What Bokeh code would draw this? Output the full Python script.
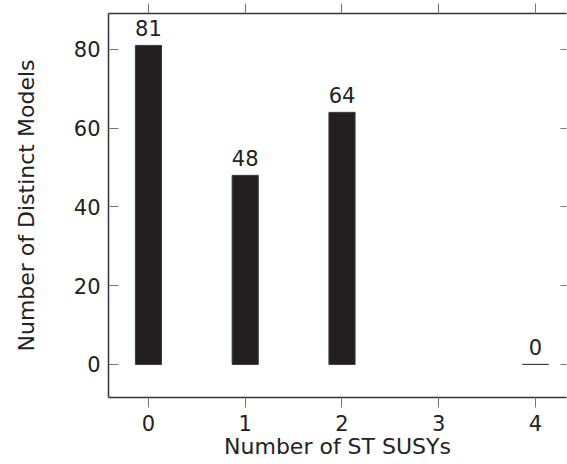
from bokeh.plotting import figure
from bokeh.models import ColumnDataSource, LinearAxis, FixedTicker, Range1d, LabelSet
from bokeh.core.properties import value
from bokeh.embed import file_html
from bokeh.resources import INLINE

categories = [0, 1, 2, 3, 4]
bar_x = [0, 1, 2, 4]
bar_values = [81, 48, 64, 0]
bar_labels = ["81", "48", "64", "0"]
y_ticks = [0, 20, 40, 60, 80]

FONT = "DejaVu Sans"
FS = "21px"
LFS = "22px"
TXT = "#222222"

src = ColumnDataSource(dict(x=bar_x, top=bar_values, label=bar_labels))

p = figure(width=567, height=464, output_backend="svg", toolbar_location=None,
           x_range=Range1d(-0.413, 4.32), y_range=Range1d(-8.4, 89.1),
           x_axis_location=None, y_axis_location=None,
           min_border_left=108, min_border_right=1, min_border_top=13, min_border_bottom=67)
p.grid.visible = False
p.outline_line_color = None
p.background_fill_color = "white"
p.border_fill_color = "white"

p.vbar(x="x", top="top", bottom=0, width=0.27, source=src,
       fill_color="#231f20", line_color="#3c3c3c", line_width=1)

labels = LabelSet(x="x", y="top", text="label", source=src, text_align="center",
                  text_baseline="alphabetic", y_offset=9, text_font=value(FONT),
                  text_font_size=FS, text_color=TXT)
p.add_layout(labels)

def style(ax, tin, tout, line=True):
    ax.major_tick_in = tin
    ax.major_tick_out = tout
    ax.minor_tick_in = 0
    ax.minor_tick_out = 0
    if line:
        ax.axis_line_color = "#333333"
        ax.axis_line_width = 1.5
    else:
        ax.axis_line_color = None
        ax.axis_line_alpha = 0
    ax.major_tick_line_color = "#777777"
    ax.major_tick_line_width = 1
    ax.major_label_text_font = FONT
    ax.major_label_text_font_size = FS
    ax.major_label_text_color = TXT
    ax.axis_label_text_font = FONT
    ax.axis_label_text_font_size = LFS
    ax.axis_label_text_font_style = "normal"
    ax.axis_label_text_color = TXT

bottom = LinearAxis(ticker=FixedTicker(ticks=categories), axis_label="Number of ST SUSYs")
style(bottom, 0, 10)
bottom.major_label_standoff = 7
bottom.axis_label_standoff = 0
p.add_layout(bottom, "below")

top = LinearAxis(ticker=FixedTicker(ticks=categories))
style(top, 0, 10)
top.major_label_overrides = {t: "" for t in categories}
top.major_label_standoff = 0
p.add_layout(top, "above")

left = LinearAxis(ticker=FixedTicker(ticks=y_ticks), axis_label="Number of Distinct Models")
style(left, 10, 0)
left.major_label_standoff = 8
left.axis_label_standoff = 32
p.add_layout(left, "left")

right = LinearAxis(ticker=FixedTicker(ticks=y_ticks))
style(right, 6, 0, line=False)
right.major_label_overrides = {t: "" for t in y_ticks}
right.major_label_standoff = 0
p.add_layout(right, "right")

open("out.html", "w").write(file_html(p, INLINE))
